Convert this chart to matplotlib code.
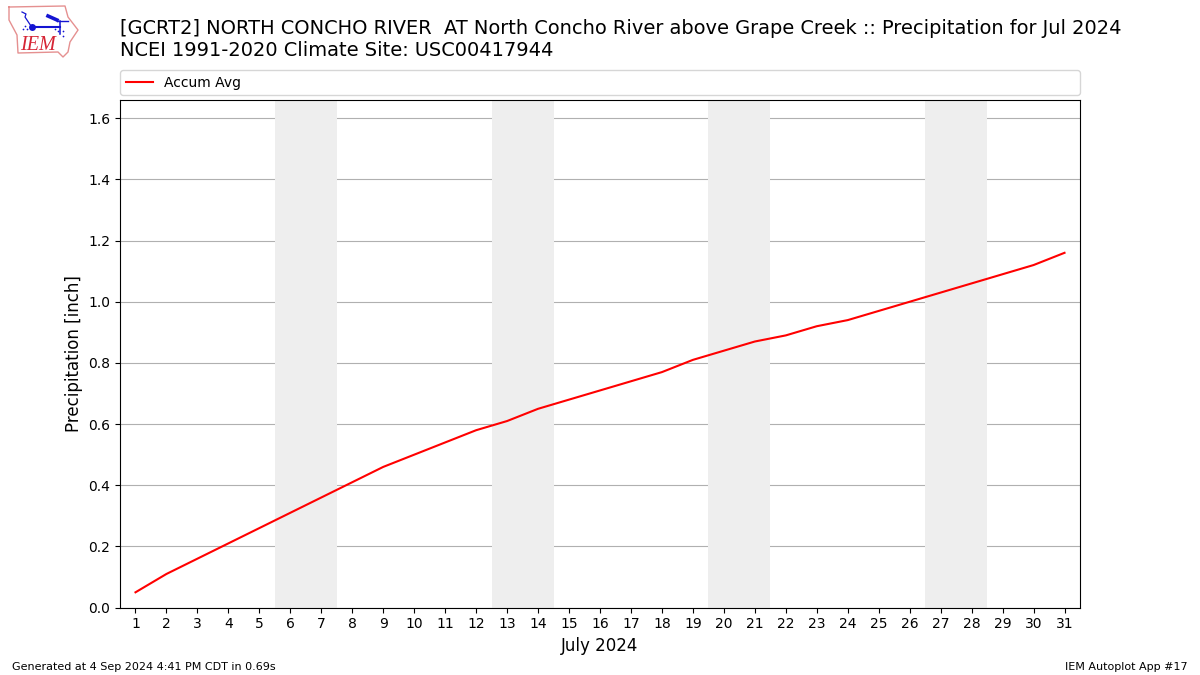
import matplotlib
matplotlib.use('Agg')
import matplotlib.pyplot as plt

days = list(range(1, 32))
accum_avg = [0.05, 0.11, 0.16, 0.21, 0.26, 0.31, 0.36, 0.41, 0.46, 0.50, 0.54,
             0.58, 0.61, 0.65, 0.68, 0.71, 0.74, 0.77, 0.81, 0.84, 0.87, 0.89,
             0.92, 0.94, 0.97, 1.00, 1.03, 1.06, 1.09, 1.12, 1.16]
weekends = [(5.5, 7.5), (12.5, 14.5), (19.5, 21.5), (26.5, 28.5)]
y_ticks = [0.0, 0.2, 0.4, 0.6, 0.8, 1.0, 1.2, 1.4, 1.6]

title = ('[GCRT2] NORTH CONCHO RIVER  AT North Concho River above Grape Creek :: '
         'Precipitation for Jul 2024\nNCEI 1991-2020 Climate Site: USC00417944')

# logo outline, in pixels of the logo box
logo_x = [9, 65, 68, 78, 70, 68, 63, 58, 18, 17, 9, 9]
logo_y = [7, 6, 17, 30, 42, 52, 57, 52, 53, 35, 20, 7]


def draw_logo(fig):
    logo = fig.add_axes([0, 1 - 65 / 675, 90 / 1200, 65 / 675])
    logo.set_xlim(0, 90)
    logo.set_ylim(65, 0)
    logo.axis('off')
    blue = '#1414d2'
    logo.plot(logo_x, logo_y, color='#e59090', lw=1)
    logo.plot([32, 60], [26.5, 26.5], color=blue, lw=1.5)
    logo.plot([60, 60], [21, 34], color=blue, lw=1.1)
    logo.plot([48, 57], [16, 20], color=blue, lw=2.6)
    logo.plot([57, 68], [21, 21], color=blue, lw=1)
    logo.plot([22, 26, 25, 31], [12, 14, 17, 26], color=blue, lw=0.9)
    logo.plot([31.5], [26.5], 'o', color=blue, ms=5, mew=0)
    logo.plot([23, 25, 27], [29, 26, 29], '.', color=blue, ms=2.5, mew=0)
    logo.plot([55, 58, 63, 63], [29, 31, 31, 36], '.', color=blue, ms=2.5, mew=0)
    logo.text(20.5, 46, 'IEM', color='#d62535', fontsize=14.5, family='Liberation Serif',
              style='italic', va='center')


def main():
    fig = plt.figure(figsize=(12, 6.75), dpi=100)
    ax = fig.add_axes([0.1, 1 - 607.6 / 675, 0.8, 507.4 / 675])

    for start, end in weekends:
        ax.axvspan(start, end, color='#eeeeee', lw=0, zorder=1)
    ax.plot(days, accum_avg, color='red', lw=1.5, label='Accum Avg', zorder=3)

    ax.set_xlim(0.5, 31.5)
    ax.set_ylim(0, 1.659)
    ax.set_xticks(days)
    ax.set_yticks(y_ticks)
    ax.yaxis.grid(True, color='#b0b0b0', lw=0.8, zorder=2)
    ax.set_axisbelow(True)
    ax.set_xlabel('July 2024', fontsize=12)
    ax.set_ylabel('Precipitation [inch]', fontsize=12)
    ax.legend(loc='lower left', bbox_to_anchor=(0, 1.0098, 1, 0.05), mode='expand',
              ncol=1, borderaxespad=0, fontsize=10)

    fig.text(0.1, 1 - 40 / 675, title, fontsize=13.98, ha='left', va='center')
    fig.text(0.01, 1 - 667 / 675, 'Generated at 4 Sep 2024 4:41 PM CDT in 0.69s',
             fontsize=8, ha='left', va='center')
    fig.text(0.99, 1 - 667 / 675, 'IEM Autoplot App #17', fontsize=8, ha='right', va='center')
    draw_logo(fig)

    fig.savefig('out.png', dpi=100)


if __name__ == "__main__":
    main()
